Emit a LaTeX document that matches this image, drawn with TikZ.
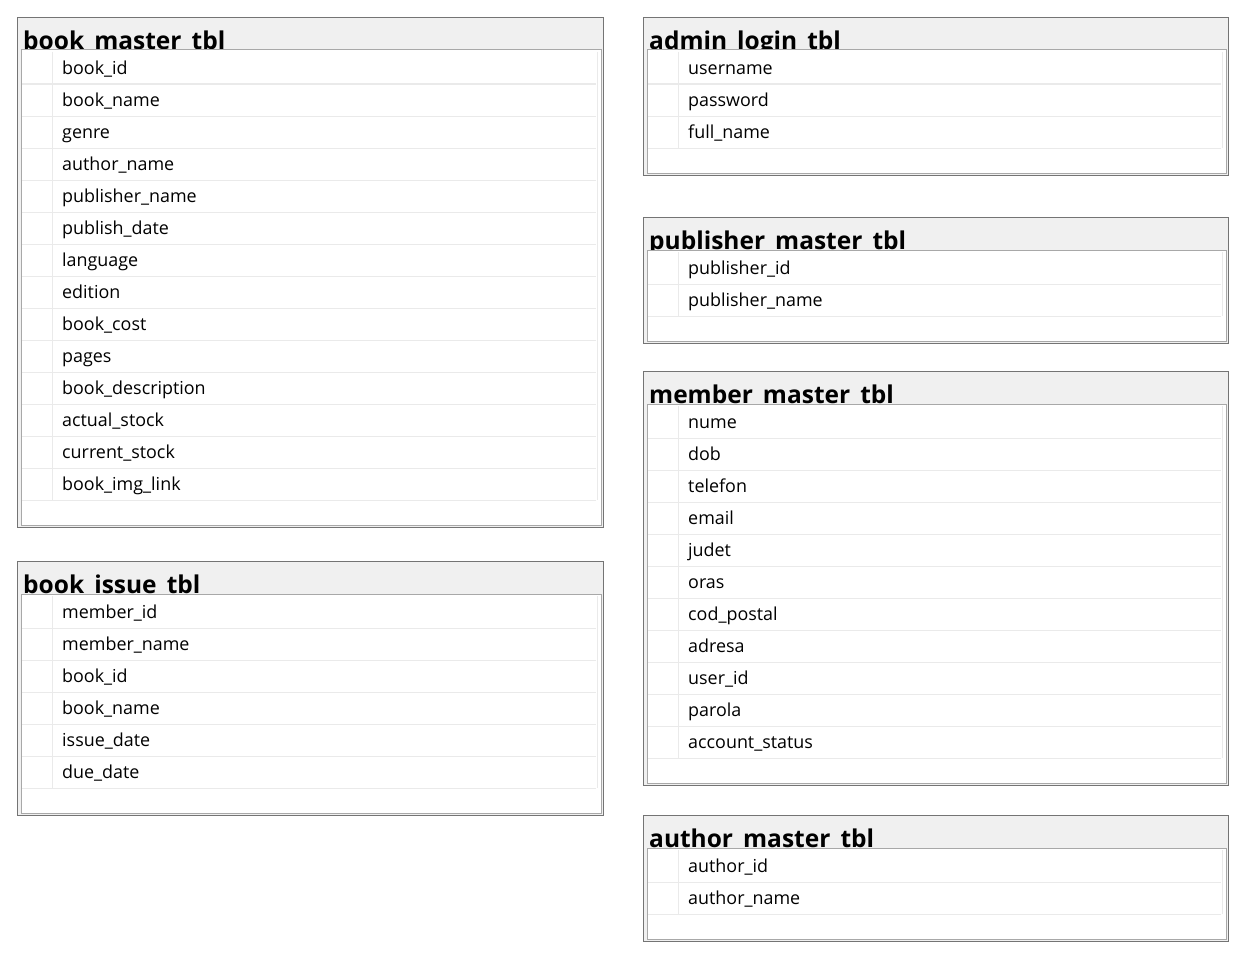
\documentclass[tikz,border=0pt]{standalone}
\usepackage{fontspec}
\setmainfont{Open Sans}
\definecolor{hdrfill}{HTML}{F0F0F0}
\definecolor{outerc}{HTML}{747474}
\definecolor{innerc}{HTML}{A8A8A8}
\definecolor{gridc}{HTML}{EAEAEA}
\tikzset{
  titletext/.style={anchor=base west,inner sep=0pt,font=\fontsize{24.5}{28}\selectfont\bfseries},
  fieldtext/.style={anchor=base west,inner sep=0pt,font=\fontsize{17.9}{20}\selectfont},
  outerbox/.style={draw=outerc,line width=1.8pt},
  innerbox/.style={draw=innerc,line width=1pt},
  gridline/.style={draw=gridc,line width=1pt},
}
% #1 name, #2 title, #3 x0, #4 y0, #5 x1, #6 y1, #7 rows, #8 fields
\newcommand\erTable[8]{%
  \fill[hdrfill] (#3,#4) rectangle (#5,#6);
  \node[titletext] (#1-title) at (#3+6,#4+32.5) {#2};
  \fill[white] (#3+4,#4+33) rectangle (#5-3,#6-3);
  \foreach \f [count=\i] in {#8} {
    \pgfmathsetmacro\rt{#4+35+32*(\i-1)}
    \draw[gridline] (#3+5,\rt+32) -- (#5-8,\rt+32);
    \node[fieldtext] (#1-\i) at (#3+45,\rt+22.3) {\f};
  }
  \draw[gridline] (#3+35,#4+35) -- (#3+35,#4+35+32*#7);
  \draw[gridline] (#5-7,#4+35) -- (#5-7,#4+35+32*#7);
  \draw[innerbox] (#3+4,#4+33) rectangle (#5-3,#6-3);
  \draw[outerbox] (#3+0.5,#4+0.5) rectangle (#5-0.5,#6-0.5);
}
\begin{document}
\begin{tikzpicture}[x=1pt,y=-1pt]
\useasboundingbox (0,0) rectangle (1253,974);
\erTable{bm}{book\_master\_tbl}{17}{17}{604}{528}{14}{book\_id,book\_name,genre,author\_name,publisher\_name,publish\_date,language,edition,book\_cost,pages,book\_description,actual\_stock,current\_stock,book\_img\_link}
\erTable{bi}{book\_issue\_tbl}{17}{561}{604}{816}{6}{member\_id,member\_name,book\_id,book\_name,issue\_date,due\_date}
\erTable{al}{admin\_login\_tbl}{643}{17}{1229}{176}{3}{username,password,full\_name}
\erTable{pm}{publisher\_master\_tbl}{643}{217}{1229}{344}{2}{publisher\_id,publisher\_name}
\erTable{mm}{member\_master\_tbl}{643}{371}{1229}{786}{11}{nume,dob,telefon,email,judet,oras,cod\_postal,adresa,user\_id,parola,account\_status}
\erTable{am}{author\_master\_tbl}{643}{815}{1229}{942}{2}{author\_id,author\_name}
\end{tikzpicture}
\end{document}
